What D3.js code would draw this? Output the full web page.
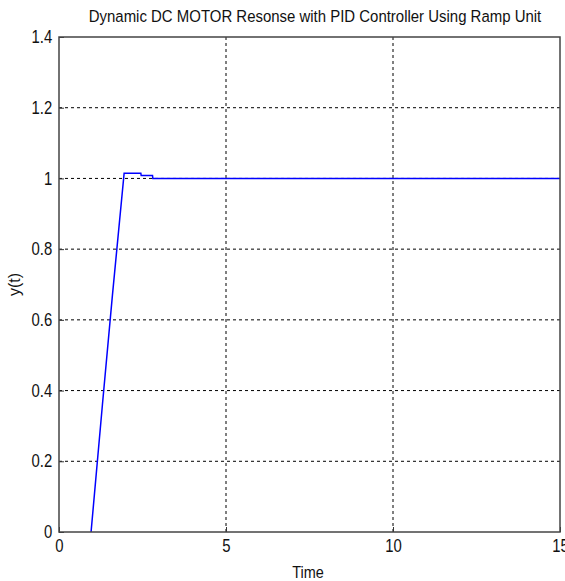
<!DOCTYPE html>
<html>
<head>
<meta charset="utf-8">
<script src="https://cdn.jsdelivr.net/npm/d3@7"></script>
<style>
  body { margin: 0; background: #fff; }
  text { font-family: "Liberation Sans", Arial, sans-serif; }
</style>
</head>
<body>
<div id="chart"></div>
<script>
// response data (zero before t ~ 0.96 is hidden by the axis)
const time = [0.96, 1.3, 1.6, 1.95, 2.45, 2.46, 2.8, 2.81, 15];
const response = [0, 0.36, 0.67, 1.015, 1.015, 1.008, 1.008, 1.0, 1.0];
const xTicks = [0, 5, 10, 15];
const yTicks = [0, 0.2, 0.4, 0.6, 0.8, 1, 1.2, 1.4];

const W = 565, H = 581;
const margin = {top: 37, left: 59, right: 5, bottom: 49};
const squeeze = "scale(0.85,1)";   // the original font is a narrow one

const svg = d3.select("#chart").append("svg")
  .attr("width", W)
  .attr("height", H);

const x = d3.scaleLinear().domain([0, 15]).range([margin.left, W - margin.right]);
const y = d3.scaleLinear().domain([0, 1.4]).range([H - margin.bottom, margin.top]);

// grid
svg.append("g").selectAll("line")
  .data(xTicks.slice(1, -1))
  .enter().append("line")
  .attr("x1", d => x(d)).attr("x2", d => x(d))
  .attr("y1", y(0)).attr("y2", y(1.4))
  .attr("stroke", "#000").attr("stroke-width", 1)
  .attr("stroke-dasharray", "3,3");

svg.append("g").selectAll("line")
  .data(yTicks.slice(1, -1))
  .enter().append("line")
  .attr("x1", x(0)).attr("x2", x(15))
  .attr("y1", d => y(d)).attr("y2", d => y(d))
  .attr("stroke", "#000").attr("stroke-width", 1)
  .attr("stroke-dasharray", "3,3");

// the curve
const line = d3.line().x((d, i) => x(time[i])).y(d => y(d));
svg.append("path")
  .datum(response)
  .attr("fill", "none")
  .attr("stroke", "#0000ff")
  .attr("stroke-width", 1.5)
  .attr("d", line);

// axes, ticks inside
const xAxis = svg.append("g")
  .attr("transform", "translate(0," + y(0) + ")")
  .call(d3.axisBottom(x).tickValues(xTicks).tickSize(-5).tickPadding(8));
const yAxis = svg.append("g")
  .attr("transform", "translate(" + x(0) + ",0)")
  .call(d3.axisLeft(y).tickValues(yTicks).tickSize(-5).tickPadding(8).tickFormat(d3.format("")));

[xAxis, yAxis].forEach(g => {
  g.select(".domain").remove();
  g.selectAll("line").attr("stroke", "#333");
  g.selectAll("text").attr("font-size", 17.5).attr("fill", "#111")
    .attr("font-family", "'Liberation Sans', Arial, sans-serif")
    .attr("transform", squeeze);
});

// box
svg.append("rect")
  .attr("x", x(0)).attr("y", y(1.4))
  .attr("width", x(15) - x(0)).attr("height", y(0) - y(1.4))
  .attr("fill", "none").attr("stroke", "#444").attr("stroke-width", 1.5);

// title and labels
svg.append("text")
  .attr("transform", "translate(315,22) scale(0.88,1)")
  .attr("text-anchor", "middle")
  .attr("font-size", 17)
  .attr("fill", "#111")
  .text("Dynamic DC MOTOR Resonse with PID Controller Using Ramp Unit");

svg.append("text")
  .attr("transform", "translate(308,578) " + squeeze)
  .attr("text-anchor", "middle")
  .attr("font-size", 17)
  .attr("fill", "#111")
  .text("Time");

svg.append("text")
  .attr("transform", "translate(20," + y(0.7) + ") rotate(-90)")
  .attr("text-anchor", "middle")
  .attr("font-size", 16)
  .attr("fill", "#111")
  .text("y(t)");
</script>
</body>
</html>
